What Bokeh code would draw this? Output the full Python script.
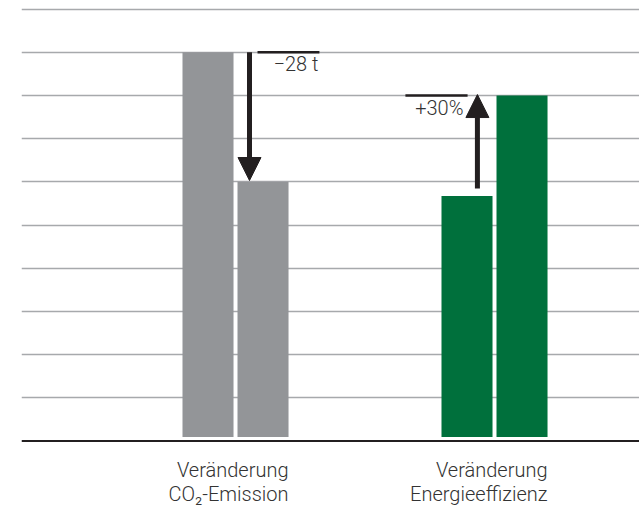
from bokeh.plotting import figure
from bokeh.models import Range1d, Grid, FixedTicker, Span, Arrow, NormalHead
from bokeh.core.properties import value
from bokeh.embed import file_html
from bokeh.resources import INLINE

# ---- data ----
label_prefix = "Veränderung"
categories = ["CO₂-Emission", "Energieeffizienz"]
before = [9.0, 5.67]     # first bar of each group (grid units)
after = [6.0, 8.0]       # second bar of each group
changes = ["−28 t", "+30%"]
grid_ticks = [1, 2, 3, 4, 5, 6, 7, 8, 9, 10]

# ---- styles ----
GROUP_COLORS = ["#939598", "#00703c"]
DARK = "#231f20"
TEXT_COLOR = "#333333"
FONT = value("Roboto Light")
FS = "20px"
BAR_W = 0.197
OFFSET = 0.1062
BAR_BASE = 0.09

p = figure(width=639, height=510,
           x_range=Range1d(-0.8263, 1.5598), y_range=Range1d(-1.609, 10.197),
           x_axis_type=None, y_axis_type=None,
           toolbar_location=None, output_backend="svg",
           min_border_left=21, min_border_right=0, min_border_top=0, min_border_bottom=0,
           outline_line_color=None, background_fill_color="white", border_fill_color="white")

grid = Grid(dimension=1, ticker=FixedTicker(ticks=grid_ticks),
            grid_line_color="#a7a9ac", grid_line_width=1.5)
p.add_layout(grid)

idx = list(range(len(categories)))

p.vbar(x=[i - OFFSET for i in idx], width=BAR_W, bottom=BAR_BASE, top=before,
       fill_color=GROUP_COLORS, line_color=None)
p.vbar(x=[i + OFFSET for i in idx], width=BAR_W, bottom=BAR_BASE, top=after,
       fill_color=GROUP_COLORS, line_color=None)

p.add_layout(Span(location=0, dimension="width", line_color=DARK, line_width=2))

def head():
    return NormalHead(size=23, fill_color=DARK, line_color=DARK, line_width=1)

# group 0: decrease arrow from first bar top to second bar top
p.add_layout(Arrow(end=head(),
                   x_start=idx[0] + 0.054, y_start=before[0],
                   x_end=idx[0] + 0.054, y_end=after[0] + 0.03,
                   line_color=DARK, line_width=5))
p.segment(x0=[idx[0] + 0.085], x1=[idx[0] + 0.324], y0=[before[0]], y1=[before[0]],
          line_color=DARK, line_width=2.5)
p.text(x=[idx[0] + 0.3205], y=[before[0] - 0.27], text=[changes[0]],
       text_align="right", text_baseline="middle", text_font=FONT,
       text_font_size=FS, text_color=TEXT_COLOR)

# group 1: increase arrow from first bar to second bar top
p.add_layout(Arrow(end=head(),
                   x_start=idx[1] - 0.066, y_start=before[1] + 0.175,
                   x_end=idx[1] - 0.066, y_end=after[1] + 0.02,
                   line_color=DARK, line_width=5))
p.segment(x0=[idx[1] - 0.344], x1=[idx[1] - 0.104], y0=[after[1]], y1=[after[1]],
          line_color=DARK, line_width=2.5)
p.text(x=[idx[1] - 0.120], y=[after[1] - 0.29], text=[changes[1]],
       text_align="right", text_baseline="middle", text_font=FONT,
       text_font_size=FS, text_color=TEXT_COLOR)

# category labels, right-aligned to the second bar's right edge
p.text(x=[i + 0.2046 for i in idx], y=[-0.683] * len(idx), text=[label_prefix] * len(idx),
       text_align="right", text_baseline="middle", text_font=FONT,
       text_font_size=FS, text_color=TEXT_COLOR)
p.text(x=[i + 0.2046 for i in idx], y=[-1.238] * len(idx), text=categories,
       text_align="right", text_baseline="middle", text_font=FONT,
       text_font_size=FS, text_color=TEXT_COLOR)

open("out.html", "w").write(file_html(p, INLINE))
